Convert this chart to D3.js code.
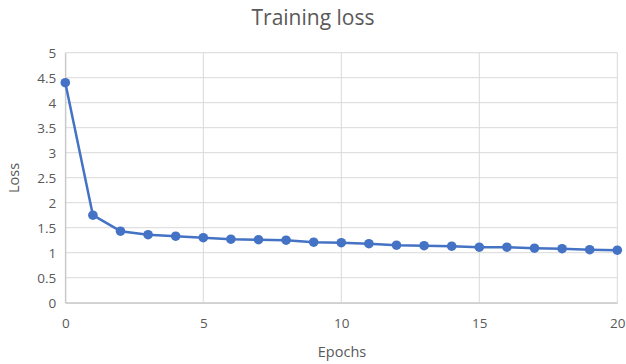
<!DOCTYPE html>
<html><head><meta charset="utf-8">
<script src="https://cdn.jsdelivr.net/npm/d3@7"></script>
<style>body{margin:0;background:#fff}svg{display:block}</style>
</head><body>
<svg id="c" width="626" height="364"></svg>
<script>
const epochs = d3.range(0, 21);
const loss = [4.40, 1.75, 1.43, 1.36, 1.33, 1.30, 1.27, 1.26, 1.25, 1.21, 1.20, 1.18, 1.15, 1.14, 1.13, 1.11, 1.11, 1.09, 1.08, 1.06, 1.05];
const xTicks = [0, 5, 10, 15, 20];
const yTicks = [0, 0.5, 1, 1.5, 2, 2.5, 3, 3.5, 4, 4.5, 5];
const title = "Training loss", xLabel = "Epochs", yLabel = "Loss";

const svg = d3.select("#c");
const font = "'Open Sans', 'Liberation Sans', sans-serif";
const m = {l: 65.3, r: 617.3, t: 52.7, b: 302.7};
const x = d3.scaleLinear().domain([0, 20]).range([m.l, m.r]);
const y = d3.scaleLinear().domain([0, 5]).range([m.b, m.t]);

// gridlines
svg.append("g").selectAll("line").data(yTicks).join("line")
  .attr("x1", m.l).attr("x2", m.r).attr("y1", d => y(d)).attr("y2", d => y(d))
  .attr("stroke", "#d9d9d9").attr("stroke-width", 1);
svg.append("g").selectAll("line").data(xTicks).join("line")
  .attr("y1", m.t).attr("y2", m.b).attr("x1", d => x(d)).attr("x2", d => x(d))
  .attr("stroke", "#d9d9d9").attr("stroke-width", 1);

// axes
const ya = svg.append("g").attr("transform", `translate(${m.l},0)`)
  .call(d3.axisLeft(y).tickValues(yTicks).tickSize(0).tickPadding(9).tickFormat(d => String(d)));
const xa = svg.append("g").attr("transform", `translate(0,${m.b})`)
  .call(d3.axisBottom(x).tickValues(xTicks).tickSize(0).tickPadding(16));
[ya, xa].forEach(a => {
  a.select(".domain").attr("stroke", "#bfbfbf");
  a.selectAll("text").attr("fill", "#595959").style("font-family", font).style("font-size", "13.5px");
});

// line
svg.append("path").datum(epochs)
  .attr("fill", "none").attr("stroke", "#4472C4").attr("stroke-width", 2.5)
  .attr("stroke-linejoin", "round")
  .attr("d", d3.line().x(d => x(d)).y(d => y(loss[d])));
svg.append("g").selectAll("circle").data(epochs).join("circle")
  .attr("cx", d => x(d)).attr("cy", d => y(loss[d])).attr("r", 4.8)
  .attr("fill", "#4472C4");

// labels
svg.append("text").attr("x", 313).attr("y", 25).attr("text-anchor", "middle")
  .attr("fill", "#595959").style("font-family", font).style("font-size", "21px").text(title);
svg.append("text").attr("x", 342).attr("y", 357).attr("text-anchor", "middle")
  .attr("fill", "#595959").style("font-family", font).style("font-size", "14.5px").text(xLabel);
svg.append("text").attr("transform", "translate(19,178) rotate(-90)").attr("text-anchor", "middle")
  .attr("fill", "#595959").style("font-family", font).style("font-size", "14.5px").text(yLabel);
</script>
</body></html>
